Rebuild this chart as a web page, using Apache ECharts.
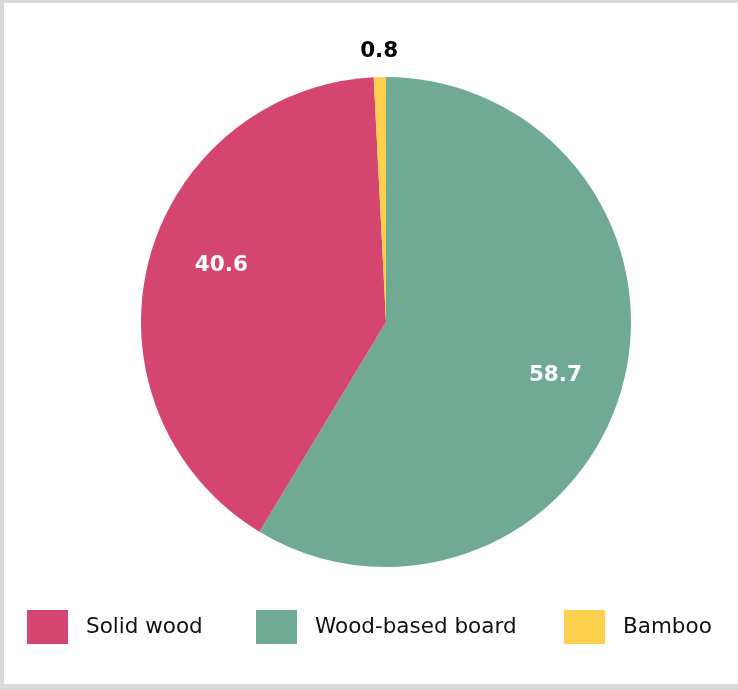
<!DOCTYPE html>
<html>
<head>
<meta charset="utf-8">
<script src="https://cdn.jsdelivr.net/npm/echarts@6/dist/echarts.min.js"></script>
<style>
html,body{margin:0;padding:0;overflow:hidden;background:#d9d9d9;width:738px;height:690px;}
#c{position:absolute;left:4px;top:3px;width:740px;height:681px;background:#fff;}
</style>
</head>
<body>
<div id="c"></div>
<script>
// data
const categories = ['Wood-based board', 'Solid wood', 'Bamboo'];
const values = [58.7, 40.6, 0.8];
const colors = ['#70AA94', '#D4466F', '#FDD14E'];
const legendOrder = ['Solid wood', 'Wood-based board', 'Bamboo'];

const FONT = 'DejaVu Sans';
const chart = echarts.init(document.getElementById('c'));
const center = [382, 319];

const data = categories.map((n, i) => ({ name: n, value: values[i], itemStyle: { color: colors[i] } }));
const ghostData = categories.map((n, i) => ({
  name: n, value: values[i],
  itemStyle: { color: 'rgba(0,0,0,0)' }
}));

// label-only transparent rings (one per label) to place each label like the reference
const labelRings = [
  { idx: 0, radius: [104, 245], start: 88.2, color: '#fff' },
  { idx: 1, radius: [97, 245], start: 85.2, color: '#fff' },
  { idx: 2, radius: [246, 290], start: 90, color: '#000' }
];

const legendLefts = [18, 247, 555];
const legends = legendOrder.map((n, i) => ({
  data: [n],
  left: legendLefts[i],
  top: 602,
  orient: 'horizontal',
  itemWidth: 41,
  itemHeight: 34,
  icon: 'rect',
  selectedMode: false,
  textStyle: { fontFamily: FONT, fontSize: 21.5, color: '#111', padding: [0, 0, 0, 13] }
}));

const series = [{
  type: 'pie',
  center: center,
  radius: [0, 245],
  startAngle: 90,
  clockwise: true,
  silent: true,
  label: { show: false },
  labelLine: { show: false },
  data: data
}];
labelRings.forEach(r => {
  series.push({
    type: 'pie',
    center: center,
    radius: r.radius,
    startAngle: r.start,
    clockwise: true,
    silent: true,
    legendHoverLink: false,
    label: {
      show: true,
      position: 'inside',
      formatter: p => (p.dataIndex === r.idx ? String(p.value) : ''),
      color: r.color,
      fontFamily: FONT,
      fontWeight: 'bold',
      fontSize: 21.5
    },
    labelLine: { show: false },
    data: ghostData
  });
});

chart.setOption({
  animation: false,
  legend: legends,
  series: series
});
</script>
</body>
</html>
